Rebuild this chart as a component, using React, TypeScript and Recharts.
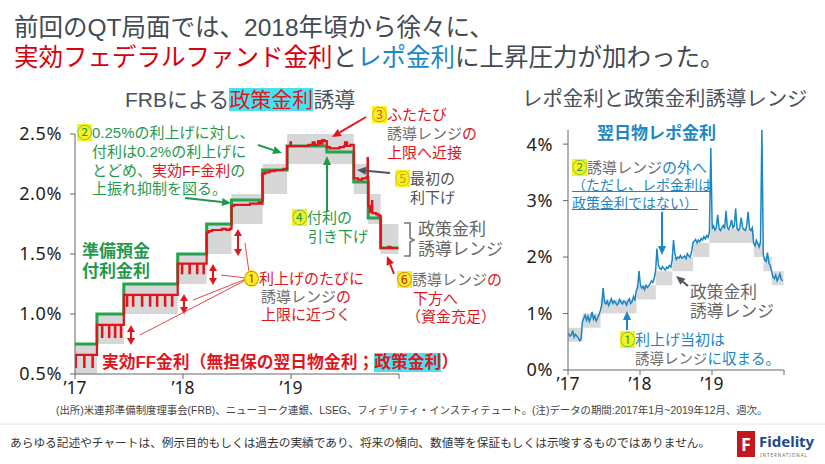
import React from "react";
import { Area, ComposedChart, Line, XAxis, YAxis } from "recharts";

const JP = '"Liberation Sans", "Noto Sans CJK JP", sans-serif';
const NUM = '"Noto Sans", "Noto Sans CJK JP", sans-serif';

const RED = "#e0161e";
const GREEN = "#1f9a4c";
const BLUE = "#1c87c3";
const GRAY = "#707070";
const DARK = "#4a5059";
const YEL = "#f4f222";
const CYAN = "#45e3f2";

// policy rate target range, effective dates as decimal years
const rangeDates = [2017.0, 2017.203, 2017.452, 2017.951, 2018.219, 2018.449, 2018.737, 2018.964, 2019.581, 2019.715, 2019.83, 2019.995];
const rangeLow = [0.5, 0.75, 1.0, 1.25, 1.5, 1.75, 2.0, 2.25, 2.0, 1.75, 1.5, 1.5];
const rangeHigh = [0.75, 1.0, 1.25, 1.5, 1.75, 2.0, 2.25, 2.5, 2.25, 2.0, 1.75, 1.75];

// interest on excess reserves
const ioerDates = [2017.0, 2017.203, 2017.452, 2017.951, 2018.219, 2018.449, 2018.737, 2018.964, 2019.332, 2019.581, 2019.715, 2019.83, 2019.995];
const ioerValues = [0.75, 1.0, 1.25, 1.5, 1.75, 1.95, 2.2, 2.4, 2.35, 2.1, 1.8, 1.55, 1.55];

// effective fed funds rate observations [decimal year, %], month-end dips are one-day readings
const effrObs: [number, number][] = [
  [2017.0, 0.66], [2017.005, 0.56], [2017.008, 0.66], [2017.085, 0.56], [2017.088, 0.66], [2017.162, 0.56], [2017.165, 0.66],
  [2017.203, 0.91], [2017.25, 0.81], [2017.253, 0.91], [2017.315, 0.81], [2017.318, 0.91], [2017.37, 0.81], [2017.373, 0.91], [2017.425, 0.81], [2017.428, 0.91],
  [2017.452, 1.16], [2017.481, 1.07], [2017.484, 1.16], [2017.537, 1.07], [2017.54, 1.16], [2017.62, 1.07], [2017.623, 1.16], [2017.694, 1.07], [2017.697, 1.16],
  [2017.759, 1.07], [2017.762, 1.16], [2017.833, 1.07], [2017.836, 1.16], [2017.898, 1.07], [2017.901, 1.16],
  [2017.951, 1.42], [2017.99, 1.34], [2017.993, 1.42], [2018.06, 1.34], [2018.063, 1.42], [2018.13, 1.34], [2018.133, 1.42], [2018.19, 1.34], [2018.193, 1.42],
  [2018.219, 1.68], [2018.24, 1.69], [2018.27, 1.7], [2018.32, 1.7], [2018.36, 1.71], [2018.4, 1.7], [2018.43, 1.71],
  [2018.449, 1.9], [2018.47, 1.91], [2018.55, 1.91], [2018.62, 1.92], [2018.66, 1.92], [2018.7, 1.93], [2018.72, 1.92],
  [2018.737, 2.17], [2018.76, 2.18], [2018.8, 2.19], [2018.85, 2.2], [2018.93, 2.21],
  [2018.964, 2.4], [2018.995, 2.43], [2019.0, 2.4], [2019.12, 2.4], [2019.16, 2.41], [2019.2, 2.43], [2019.22, 2.41], [2019.25, 2.44], [2019.27, 2.42],
  [2019.29, 2.45], [2019.31, 2.44], [2019.332, 2.39], [2019.36, 2.38], [2019.4, 2.38], [2019.45, 2.39], [2019.49, 2.4], [2019.5, 2.43], [2019.52, 2.4], [2019.55, 2.41],
  [2019.581, 2.13], [2019.62, 2.12], [2019.66, 2.13], [2019.7, 2.14], [2019.709, 2.3], [2019.712, 2.14],
  [2019.715, 1.9], [2019.73, 1.85], [2019.75, 1.94], [2019.753, 1.84], [2019.79, 1.83], [2019.81, 1.82],
  [2019.83, 1.55], [2019.87, 1.55], [2019.9, 1.56], [2019.92, 1.55], [2019.995, 1.55],
];

// overnight repo rate, weekly from 2017-01-04
const repoWeekly = [
  0.65, 0.6, 0.62, 0.7, 0.58, 0.63, 0.6, 0.57, 0.52, 0.55,
  0.85, 0.92, 0.97, 0.88, 0.95, 0.86, 0.93, 1.03, 0.9, 0.95, 0.87, 0.92, 0.98,
  1.05, 1.15, 1.45, 1.2, 1.17, 1.22, 1.14, 1.2, 1.26, 1.18, 1.22, 1.19, 1.15, 1.18, 1.25, 1.2, 1.17, 1.22, 1.2, 1.15, 1.22, 1.26, 1.18, 1.21, 1.3, 1.23,
  1.4, 1.46, 1.75, 1.5, 1.45, 1.48, 1.42, 1.5, 1.46, 1.49, 1.53, 1.58, 1.55, 1.62,
  1.75, 2.15, 1.86, 1.8, 1.78, 1.83, 1.8, 1.77, 1.82, 1.8, 1.85, 1.82,
  1.95, 2.3, 2.05, 1.96, 2.0, 1.98, 2.03, 1.98, 2.0, 2.02, 1.97, 2.06, 2.02, 2.0, 2.08,
  2.25, 2.28, 2.31, 2.25, 2.3, 2.27, 2.33, 2.3, 2.36, 2.32, 2.38, 2.35,
  2.45, 3.93, 2.5, 2.55, 2.48, 2.52, 2.75, 2.5, 2.47, 2.52, 2.56, 2.5, 2.82, 2.52, 2.49, 2.55,
  2.66, 2.52, 2.55, 2.86, 2.5, 2.47, 2.51, 2.7, 2.52, 2.49, 2.47, 2.55, 2.8, 2.5, 2.47, 2.52,
  2.25, 2.2, 2.3, 2.24, 2.18, 2.27, 4.25,
  2.05, 1.95, 1.92, 2.08, 1.9, 1.85,
  1.75, 1.65, 1.62, 1.68, 1.58, 1.63, 1.7, 1.6, 1.58,
];

const yearTicks = [2017, 2018, 2019, 2020];
const leftTicks = [0.5, 1.0, 1.5, 2.0, 2.5];
const rightTicks = [0, 1, 2, 3, 4];

const weekT = (i: number) => 2017 + (3 + 7 * i) / 365;
const effrData = effrObs.map(([t, v]) => ({ t, v }));
const repoData = repoWeekly.map((v, i) => ({ t: weekT(i), v }));
const bandData = rangeDates.map((t, i) => ({ t, band: [rangeLow[i], rangeHigh[i]] }));
const ioerData = ioerDates.map((t, i) => ({ t, v: ioerValues[i] }));

const yearLabel = (v: number) => (v === 2020 ? "" : "’" + String(v).slice(2));
const xTickStyle = { fill: "#1e1e1e", fontSize: 17.5, fontFamily: NUM };
const yTickStyle = { fill: "#1e1e1e", fontSize: 18, fontFamily: NUM, letterSpacing: 0.6 };

// text block; y is the centre of the first line, lh the line pitch
function T({ x, y, size = 15, lh = 0, color = GRAY, bold = false, children, style = {} }: any) {
  const L = lh || size * 1.15;
  return (
    <div
      style={{
        position: "absolute",
        left: x,
        top: y - L / 2 + size * 0.034,
        fontSize: size,
        lineHeight: `${L}px`,
        color,
        fontWeight: bold ? 700 : 400,
        whiteSpace: "nowrap",
        fontFamily: JP,
        ...style,
      }}
    >
      {children}
    </div>
  );
}

const Mark = ({ c, color, round = false }: any) => (
  <span style={{ background: YEL, color, borderRadius: round ? "50%" : 0 }}>{c}</span>
);
const R = ({ children }: any) => <span style={{ color: RED }}>{children}</span>;
const B = ({ children }: any) => <span style={{ color: BLUE }}>{children}</span>;

function Arrow({ x1, y1, x2, y2, color, w = 2, len = 9, wid = 8, both = false }: any) {
  const a = Math.atan2(y2 - y1, x2 - x1);
  const ca = Math.cos(a);
  const sa = Math.sin(a);
  const head = (px: number, py: number, dir: number) => {
    const bx = px - dir * len * ca;
    const by = py - dir * len * sa;
    return {
      base: [bx, by],
      pts: `${px},${py} ${bx + (wid / 2) * sa},${by - (wid / 2) * ca} ${bx - (wid / 2) * sa},${by + (wid / 2) * ca}`,
    };
  };
  const h2 = head(x2, y2, 1);
  const h1 = both ? head(x1, y1, -1) : null;
  const sx = h1 ? h1.base[0] : x1;
  const sy = h1 ? h1.base[1] : y1;
  return (
    <g>
      <line x1={sx} y1={sy} x2={h2.base[0]} y2={h2.base[1]} stroke={color} strokeWidth={w} />
      <polygon points={h2.pts} fill={color} />
      {h1 && <polygon points={h1.pts} fill={color} />}
    </g>
  );
}

export default function App() {
  return (
    <div style={{ position: "absolute", left: 0, top: 0, width: 825, height: 464, background: "#fff", overflow: "hidden" }}>
      {/* left chart */}
      <div style={{ position: "absolute", left: 0, top: 0 }}>
        <ComposedChart width={420} height={400} margin={{ top: 134, right: 21, bottom: 0, left: 15 }}>
          <XAxis type="number" dataKey="t" domain={[2017, 2020]} ticks={yearTicks} interval={0} tickFormatter={yearLabel}
            height={26} tickSize={5} tickMargin={3} stroke="#666" tick={xTickStyle} allowDataOverflow />
          <YAxis type="number" domain={[0.5, 2.5]} ticks={leftTicks} interval={0} tickFormatter={(v: number) => v.toFixed(1) + "%"}
            width={60} tickSize={5} tickMargin={8} stroke="#666" tick={yTickStyle} allowDataOverflow />
          <Area data={bandData} dataKey="band" type="stepAfter" fill="#d7d7d7" fillOpacity={1} stroke="none" isAnimationActive={false} />
          <Line data={ioerData} dataKey="v" type="stepAfter" stroke="#22a34c" strokeWidth={3} dot={false} activeDot={false} isAnimationActive={false} />
          <Line data={effrData} dataKey="v" type="stepAfter" stroke="#e3121b" strokeWidth={2.2} dot={false} activeDot={false} isAnimationActive={false} />
        </ComposedChart>
      </div>

      {/* right chart */}
      <div style={{ position: "absolute", left: 470, top: 0 }}>
        <ComposedChart width={340} height={400} margin={{ top: 130, right: 26, bottom: 0, left: 38 }}>
          <XAxis type="number" dataKey="t" domain={[2017, 2020]} ticks={yearTicks} interval={0} tickFormatter={yearLabel}
            height={30} tickSize={5} tickMargin={3} stroke="#666" tick={xTickStyle} allowDataOverflow />
          <YAxis type="number" domain={[0, 4.25]} ticks={rightTicks} interval={0} tickFormatter={(v: number) => v + "%"}
            width={60} tickSize={5} tickMargin={10} stroke="#666" tick={yTickStyle} allowDataOverflow />
          <Area data={bandData} dataKey="band" type="stepAfter" fill="#d9d9d9" fillOpacity={1} stroke="none" isAnimationActive={false} />
          <Line data={repoData} dataKey="v" type="linear" stroke="#1b86c4" strokeWidth={1.5} dot={false} activeDot={false} isAnimationActive={false} />
        </ComposedChart>
      </div>

      {/* arrows */}
      <svg width={825} height={464} style={{ position: "absolute", left: 0, top: 0, pointerEvents: "none" }}>
        <Arrow x1={258} y1={145} x2={282} y2={153} color={GREEN} />
        <Arrow x1={185} y1={198} x2={231} y2={203} color={GREEN} />
        <Arrow x1={366} y1={117} x2={332} y2={137} color={RED} />
        <Arrow x1={390} y1={173} x2={357} y2={170} color="#4d5563" />
        <Arrow x1={327} y1={211} x2={327} y2={156} color={GREEN} />
        <Arrow x1={394} y1={274} x2={387} y2={256} color={RED} />
        <Arrow x1={131} y1={325} x2={131} y2={345} color={RED} both len={7} wid={8} />
        <Arrow x1={184} y1={294} x2={184} y2={314} color={RED} both len={7} wid={8} />
        <Arrow x1={213} y1={264} x2={213} y2={285} color={RED} both len={7} wid={8} />
        <Arrow x1={238} y1={229} x2={238} y2={256} color={RED} both len={7} wid={8} />
        <g stroke={RED} strokeWidth={0.8}>
          <line x1={246} y1={280} x2={140} y2={335} />
          <line x1={246} y1={279} x2={193} y2={300} />
          <line x1={246} y1={278} x2={221} y2={275} />
          <line x1={249} y1={272} x2={245} y2={243} />
        </g>
        <path d="M404 223 L410 223 L410 238 L414 240 L410 242 L410 256 L404 256" fill="none" stroke="#777" strokeWidth={1.6} />
        <Arrow x1={662} y1={212} x2={662} y2={255} color={BLUE} />
        <Arrow x1={688} y1={286} x2={676} y2={276} color="#4d5563" />
        <Arrow x1={627} y1={330} x2={627} y2={311} color={BLUE} />
        <line x1={0} y1={424} x2={825} y2={424} stroke="#e2e2e2" strokeWidth={1} />
      </svg>

      {/* headline */}
      <T x={14} y={27} size={24.5} lh={30} color="#434a54">
        前回のQT局面では、2018年頃から徐々に、<br />
        <span style={{ color: "#d6000f" }}>実効フェデラルファンド金利</span>と<span style={{ color: "#1a88c9" }}>レポ金利</span>に上昇圧力が加わった。
      </T>

      <T x={125} y={99} size={21} color={DARK}>
        FRBによる<span style={{ color: RED, background: CYAN }}>政策金利</span>誘導
      </T>
      <T x={522} y={99} size={20.4} color={DARK}>レポ金利と政策金利誘導レンジ</T>

      {/* left annotations */}
      <T x={77} y={133} lh={18.7} color={GREEN}>
        <Mark c="②" color={GREEN} />0.25%の利上げに対し、<br />
        <span style={{ paddingLeft: 15 }}>付利は0.2%の利上げに</span><br />
        <span style={{ paddingLeft: 15 }}>とどめ、<R>実効FF金利</R>の</span><br />
        <span style={{ paddingLeft: 15 }}>上振れ抑制を図る。</span>
      </T>

      <T x={372} y={114} lh={19} color={RED}>
        <Mark c="③" color="#e05a10" />ふたたび<br />
        <span style={{ paddingLeft: 15, color: GRAY }}>誘導レンジ<R>の</R></span><br />
        <span style={{ paddingLeft: 15 }}>上限へ近接</span>
      </T>

      <T x={395} y={178} lh={19} color="#555">
        <Mark c="⑤" color="#c9a000" />最初の<br />
        <span style={{ paddingLeft: 15 }}>利下げ</span>
      </T>

      <T x={292} y={217} lh={19} color={GREEN}>
        <Mark c="④" color={GREEN} />付利の<br />
        <span style={{ paddingLeft: 16 }}>引き下げ</span>
      </T>

      <T x={418} y={229} size={17} lh={20} color="#666">政策金利<br />誘導レンジ</T>

      <T x={397} y={280} lh={18.5} color={GRAY}>
        <Mark c="⑥" color={RED} />誘導レンジ<R>の</R><br />
        <span style={{ paddingLeft: 16 }}><R>下方へ</R></span><br />
        <span style={{ paddingLeft: 9 }}><R>（資金充足）</R></span>
      </T>

      <T x={82} y={251} size={17} lh={20} bold color={GREEN}>準備預金<br />付利金利</T>

      <T x={244} y={278} lh={18} color={RED}>
        <Mark c="①" color={RED} round />利上げのたびに<br />
        <span style={{ paddingLeft: 17, color: GRAY }}>誘導レンジ<R>の</R></span><br />
        <span style={{ paddingLeft: 17 }}>上限に近づく</span>
      </T>

      <T x={102} y={362} size={16.8} bold color={RED}>
        実効FF金利（無担保の翌日物金利；<span style={{ background: CYAN }}>政策金利</span>）
      </T>

      {/* right annotations */}
      <T x={597} y={133} size={17} bold color={BLUE}>翌日物レポ金利</T>
      <T x={572} y={167} color={GRAY}><Mark c="②" color={GREEN} />誘導レンジ<B>の外へ</B></T>
      <T x={572} y={185} size={14} lh={18} color={BLUE} style={{ textDecoration: "underline" }}>
        （ただし、レポ金利は<br />政策金利ではない）
      </T>

      <T x={690} y={292} size={16.8} lh={19} color="#666">政策金利<br />誘導レンジ</T>

      <T x={620} y={339} size={15} lh={19} color={BLUE}>
        <Mark c="①" color={GREEN} />利上げ当初は<br />
        <span style={{ paddingLeft: 15, color: GRAY, fontSize: 14.5 }}>誘導レンジ<B>に収まる。</B></span>
      </T>

      {/* footer */}
      <T x={56} y={411} size={10.4} color="#444">
        (出所)米連邦準備制度理事会(FRB)、ニューヨーク連銀、LSEG、フィデリティ・インスティテュート。(注)データの期間:2017年1月~2019年12月、週次。
      </T>
      <T x={10} y={442} size={11.7} color="#333">
        あらゆる記述やチャートは、例示目的もしくは過去の実績であり、将来の傾向、数値等を保証もしくは示唆するものではありません。
      </T>
      <div style={{ position: "absolute", left: 737, top: 431, width: 18, height: 26, background: "#c4161c", color: "#fff",
        fontFamily: NUM, fontWeight: 700, fontSize: 18, lineHeight: "26px", textAlign: "center" }}>F</div>
      <T x={759} y={441} size={15} bold color="#24498a" style={{ fontFamily: NUM }}>Fidelity</T>
      <T x={760} y={455} size={4.5} color="#666" style={{ fontFamily: NUM, letterSpacing: 1 }}>INTERNATIONAL</T>
    </div>
  );
}
